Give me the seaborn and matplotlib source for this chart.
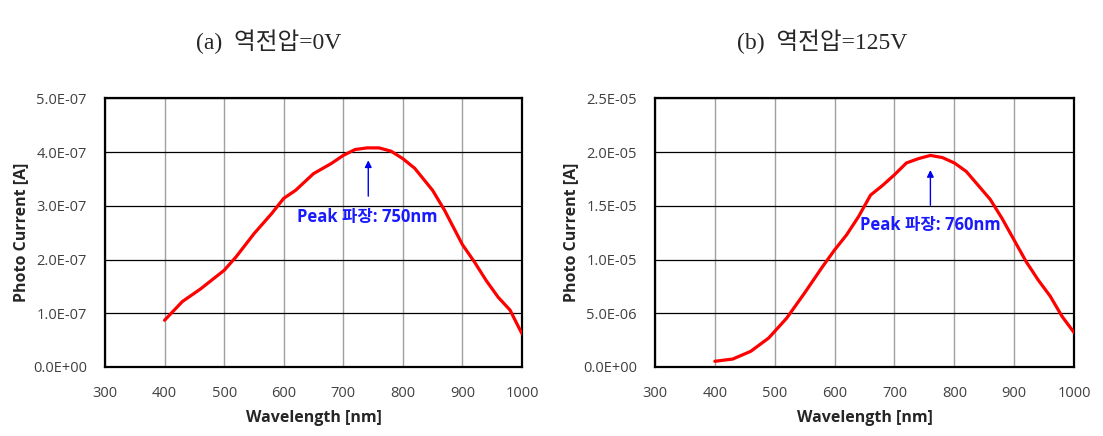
import numpy as np
import pandas as pd
import seaborn as sns
import matplotlib.pyplot as plt
from matplotlib.ticker import FuncFormatter

# panel (a): reverse voltage 0V
wl_a = [400, 430, 460, 500, 520, 550, 580, 600, 620, 650, 680, 700, 720, 740,
        760, 780, 800, 820, 850, 870, 900, 920, 940, 960, 980, 1000]
cur_a = [0.87, 1.22, 1.45, 1.80, 2.05, 2.48, 2.86, 3.14, 3.29, 3.60, 3.79, 3.94, 4.05, 4.08,
         4.08, 4.02, 3.88, 3.70, 3.29, 2.92, 2.28, 1.96, 1.61, 1.30, 1.06, 0.62]
cur_a = [v * 1e-7 for v in cur_a]

# panel (b): reverse voltage 125V
wl_b = [400, 430, 460, 490, 520, 550, 580, 600, 620, 640, 660, 680, 700, 720, 740,
        760, 780, 800, 820, 840, 860, 880, 900, 920, 940, 960, 980, 1000]
cur_b = [0.53, 0.74, 1.46, 2.7, 4.55, 6.9, 9.35, 10.9, 12.3, 14.0, 16.0, 16.9, 17.9, 19.0, 19.4,
         19.7, 19.5, 19.0, 18.2, 16.9, 15.6, 13.8, 11.8, 9.8, 8.1, 6.6, 4.7, 3.2]
cur_b = [v * 1e-6 for v in cur_b]

titles = ['(a)  역전압=0V', '(b)  역전압=125V']
peak_text = ['Peak 파장: 750nm', 'Peak 파장: 760nm']
ymax = [5e-7, 2.5e-5]

sns.set_style('white')
plt.rcParams['font.family'] = ['Open Sans', 'Noto Sans CJK KR', 'DejaVu Sans']

fig = plt.figure(figsize=(11.03, 4.36), dpi=100)
ax_a = fig.add_axes([0.0952, 0.1583, 0.378, 0.6158])
ax_b = fig.add_axes([0.5938, 0.1583, 0.380, 0.6158])

df_a = pd.DataFrame({'wl': wl_a, 'cur': cur_a})
df_b = pd.DataFrame({'wl': wl_b, 'cur': cur_b})

sci = FuncFormatter(lambda v, p: '%.1E' % v)

for ax, df, top in [(ax_a, df_a, ymax[0]), (ax_b, df_b, ymax[1])]:
    sns.lineplot(data=df, x='wl', y='cur', ax=ax, color='#ff0000', linewidth=2.3, zorder=3)
    ax.set_xlim(300, 1000)
    ax.set_ylim(0, top)
    ax.set_xticks(range(300, 1001, 100))
    ax.set_yticks(np.linspace(0, top, 6))
    ax.yaxis.set_major_formatter(sci)
    ax.xaxis.grid(True, color='#a0a0a0', linewidth=1)
    ax.yaxis.grid(True, color='#000000', linewidth=0.9)
    ax.set_axisbelow(True)
    for s in ax.spines.values():
        s.set_color('black')
        s.set_linewidth(1.6)
    ax.tick_params(axis='both', length=0, labelsize=10.5, labelcolor='#404040')
    ax.tick_params(axis='y', pad=13)
    ax.tick_params(axis='x', pad=14)
    ax.set_xlabel('Wavelength [nm]', fontsize=11.5, fontweight='bold', labelpad=6)
    ax.set_ylabel('Photo Current [A]', fontsize=11.5, fontweight='bold', labelpad=3)

# peak annotations
ax_a.annotate('', xy=(742, 3.9e-7), xytext=(742, 3.13e-7),
              arrowprops=dict(arrowstyle='-|>', color='#0000ee', lw=1, mutation_scale=10))
ax_a.text(740, 2.8e-7, peak_text[0], color='#1a1aff', fontsize=12, fontweight='bold',
          ha='center', va='center')
ax_b.annotate('', xy=(760, 1.86e-5), xytext=(760, 1.48e-5),
              arrowprops=dict(arrowstyle='-|>', color='#0000ee', lw=1, mutation_scale=10))
ax_b.text(760, 1.32e-5, peak_text[1], color='#1a1aff', fontsize=12, fontweight='bold',
          ha='center', va='center')

title_font = ['Liberation Serif', 'Noto Sans CJK KR']
fig.text(269 / 1103, 1 - 42 / 436, titles[0], ha='center', va='center', fontsize=17, family=title_font)
fig.text(822 / 1103, 1 - 42 / 436, titles[1], ha='center', va='center', fontsize=17, family=title_font)

fig.savefig('out.png', dpi=100)
